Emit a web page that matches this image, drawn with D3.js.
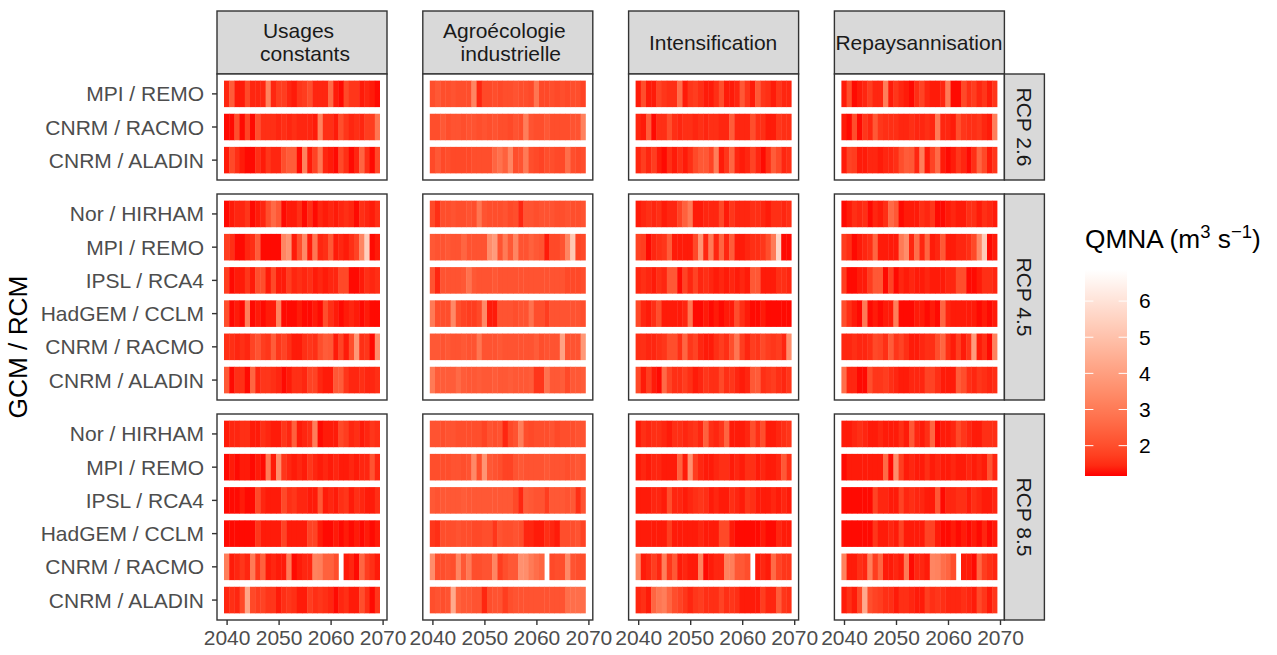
<!DOCTYPE html>
<html><head><meta charset="utf-8">
<script src="https://cdnjs.cloudflare.com/ajax/libs/d3/7.8.5/d3.min.js"></script>
<style>html,body{margin:0;padding:0;background:#fff}svg{display:block}text{font-family:"Liberation Sans",Arial,sans-serif}</style>
</head><body><svg id="c" width="1277" height="655"></svg>
<script>
const years = d3.range(2040, 2070);
const scenarios = ["Usages\nconstants", "Agroécologie\nindustrielle", "Intensification", "Repaysannisation"];
const rcps = ["RCP 2.6", "RCP 4.5", "RCP 8.5"];
const models26 = ["MPI / REMO", "CNRM / RACMO", "CNRM / ALADIN"];
const models = ["Nor / HIRHAM", "MPI / REMO", "IPSL / RCA4", "HadGEM / CCLM", "CNRM / RACMO", "CNRM / ALADIN"];
const xTicks = [2040, 2050, 2060, 2070];
const legendTicks = [2, 3, 4, 5, 6];
const fillMin = 1.16, fillMax = 6.86;

const usages26 = [
[1.4,2.3,1.3,1.3,1.9,1.4,1.4,1.4,3.2,1.4,1.7,1.7,1.4,1.3,1.6,1.7,2.0,1.4,1.4,1.4,2.6,1.3,1.2,1.9,1.6,1.6,1.3,1.4,1.3,1.2],
[1.2,1.2,2.0,1.2,1.8,1.2,2.0,1.5,1.5,1.5,1.4,1.5,1.4,1.5,1.4,1.4,1.4,1.3,3.2,1.5,1.5,1.3,2.0,1.6,1.4,1.5,1.4,1.7,1.7,2.9],
[1.3,1.9,1.5,1.3,1.2,1.2,1.5,1.3,1.6,1.4,1.4,2.0,2.3,2.3,1.2,3.2,1.3,1.8,2.9,1.4,1.3,1.2,1.9,1.5,1.2,1.4,2.5,1.5,1.2,1.9]];
const agro26 = [
[2.0,2.2,2.0,2.0,2.1,2.0,2.0,2.0,3.3,1.4,1.9,1.9,2.0,1.9,2.0,2.0,2.1,2.0,2.0,1.9,2.9,1.9,1.9,2.0,1.9,2.0,1.9,2.0,2.0,1.8],
[2.0,2.0,2.2,2.0,2.1,2.1,2.0,2.1,2.1,2.0,2.1,2.0,2.1,2.0,2.0,1.9,2.1,2.0,3.1,2.1,2.0,2.0,2.2,2.0,2.0,2.0,2.0,2.1,2.1,3.2],
[1.9,2.2,1.9,2.0,1.9,1.9,1.9,1.9,2.0,2.0,2.0,2.0,2.5,2.8,2.4,3.3,2.0,2.1,3.0,2.0,1.9,1.8,2.0,2.0,1.9,1.9,2.7,2.0,1.9,2.0]];
const intens26 = [
[1.3,2.0,1.3,1.3,1.8,1.6,1.5,1.5,2.7,1.3,1.6,1.7,1.5,1.3,1.3,1.5,2.0,1.3,1.3,1.4,2.2,1.6,1.3,2.2,1.6,1.5,1.3,1.6,1.4,1.4],
[1.4,1.3,2.3,1.2,1.5,1.5,2.0,1.5,1.4,1.5,1.5,1.4,1.5,1.4,1.5,1.5,1.4,1.4,2.3,1.4,1.4,1.4,2.0,1.5,1.5,1.3,1.3,1.6,1.5,1.5],
[1.4,1.7,1.4,1.7,1.3,1.2,1.5,1.3,1.5,1.3,1.5,1.9,2.2,2.2,1.8,3.1,1.3,1.6,2.5,1.4,1.3,1.4,1.8,1.4,1.2,1.5,2.3,1.9,1.4,1.5]];
const repays26 = [
[1.3,2.0,1.2,1.3,1.4,1.7,1.4,1.4,3.1,1.3,1.6,1.4,1.3,1.2,1.5,1.8,1.4,1.3,1.3,1.4,3.0,1.2,1.2,1.9,1.5,1.7,1.4,1.6,1.3,1.6],
[1.3,1.2,2.0,1.2,1.6,1.4,2.2,1.6,1.5,1.5,1.5,1.4,1.4,1.5,1.4,1.4,1.5,1.4,3.0,1.4,1.4,1.3,2.0,1.6,1.5,1.5,1.6,1.4,1.3,3.1],
[1.3,1.8,1.7,1.3,1.3,1.4,1.4,1.3,1.4,1.4,1.5,2.0,2.3,2.2,1.4,3.1,1.3,1.8,2.6,1.3,1.2,1.3,1.6,1.4,1.2,1.5,2.5,1.9,1.3,1.6]];

const usages45 = [
[1.2,1.3,1.4,1.4,1.6,1.2,1.3,1.4,2.0,2.6,2.2,1.2,1.3,1.3,1.5,1.2,1.5,1.2,1.4,1.3,1.4,1.3,1.4,1.5,1.4,1.2,1.5,1.4,1.3,1.5],
[1.7,1.5,1.2,1.2,1.4,1.5,2.3,1.2,1.2,1.2,1.2,3.3,3.7,1.3,2.0,3.4,1.3,2.9,1.4,1.5,2.2,1.3,1.4,1.3,1.5,1.8,3.3,5.4,1.2,1.3],
[1.7,1.2,1.3,1.3,1.6,1.3,2.0,2.0,1.3,1.9,1.3,1.3,1.7,1.4,1.5,1.4,1.5,1.3,1.4,1.3,1.4,1.4,1.9,1.9,1.2,1.2,1.3,1.5,1.4,1.5],
[2.0,1.2,1.3,1.2,3.1,1.2,1.3,1.2,1.3,1.3,3.2,1.2,1.2,1.2,1.3,1.2,1.2,1.3,1.2,2.0,1.5,1.3,1.2,1.3,1.4,1.3,1.2,1.3,1.2,1.2],
[1.5,1.5,1.4,1.5,1.4,1.8,2.1,1.7,1.6,2.3,1.6,1.8,1.5,1.3,1.3,1.5,1.6,1.5,2.0,2.3,2.2,1.3,1.8,1.3,2.0,3.8,1.5,1.6,1.2,3.5],
[2.2,1.2,1.5,1.5,1.2,2.5,1.4,1.6,1.6,1.5,1.4,1.2,1.3,1.5,1.5,1.4,1.8,1.8,1.4,1.3,1.3,2.2,2.3,1.6,1.4,1.4,1.5,1.4,1.4,1.5]];
const agro45 = [
[1.9,1.5,2.0,2.0,2.1,2.0,2.0,2.1,2.0,2.9,2.1,2.0,2.0,2.0,2.1,1.9,2.0,1.4,2.1,2.1,2.0,2.1,2.1,2.1,2.0,2.0,2.1,2.0,2.0,2.1],
[2.2,2.1,2.1,2.2,2.1,2.1,2.5,2.1,2.1,2.1,2.1,3.5,3.9,2.1,3.0,2.2,3.3,2.1,2.1,2.4,2.2,2.1,1.3,1.9,1.9,2.1,3.3,5.2,1.8,1.9],
[2.1,1.4,2.1,2.1,2.1,2.1,2.2,2.8,2.2,2.1,2.1,2.1,2.2,2.1,2.1,2.1,2.1,2.1,2.1,2.1,2.1,2.1,2.1,2.1,2.1,2.1,1.9,1.9,1.9,2.0],
[3.0,2.0,2.0,2.0,3.4,2.0,1.8,1.7,1.7,1.9,3.4,1.3,1.3,2.1,2.1,2.1,2.0,2.1,2.1,2.8,2.0,2.0,1.7,2.1,2.1,2.1,2.1,2.1,2.1,2.0],
[2.2,2.2,2.1,2.2,2.1,2.1,2.2,2.1,2.1,2.9,2.1,2.1,2.1,2.2,2.1,2.1,2.1,2.1,2.1,2.1,2.3,2.0,2.1,2.1,2.1,4.1,2.1,2.1,2.1,3.8],
[3.0,2.3,2.3,2.3,2.3,2.6,2.3,2.2,2.2,2.3,2.2,2.2,2.3,2.2,2.2,2.3,2.2,2.2,2.2,2.3,1.6,1.6,2.8,2.2,2.2,2.3,1.9,2.2,2.2,2.3]];
const intens45 = [
[1.3,1.4,1.5,1.4,1.5,1.3,1.4,1.4,1.8,2.4,3.0,1.3,1.3,1.4,1.4,1.4,1.9,1.3,1.6,1.4,1.4,1.4,1.5,1.5,1.4,1.3,1.5,1.5,1.4,1.5],
[1.8,1.7,1.2,1.4,1.5,1.6,2.3,1.3,1.3,1.3,1.3,1.9,3.7,1.4,3.0,1.4,2.5,1.4,2.3,1.3,1.3,1.4,1.5,1.5,1.6,2.0,3.0,5.6,1.2,1.2],
[1.4,1.5,1.4,1.3,1.5,1.4,2.2,2.2,1.2,1.8,1.4,1.8,1.4,1.5,1.4,1.3,1.4,1.3,1.4,1.3,1.4,1.3,2.2,2.2,1.3,1.3,1.3,1.5,1.5,1.4],
[1.9,1.4,1.3,1.5,2.0,1.3,1.3,1.3,1.3,1.4,2.9,1.2,1.2,1.3,1.2,1.3,1.2,1.3,1.3,2.0,1.5,1.3,1.2,1.2,1.3,1.2,1.2,1.2,1.2,1.2],
[1.5,1.5,1.4,1.4,1.5,1.6,2.0,2.0,1.5,2.5,1.6,1.8,1.4,1.3,1.3,1.5,1.7,1.5,2.0,2.9,1.7,1.4,1.7,1.6,1.9,1.7,1.6,1.7,1.4,3.5],
[1.9,1.3,1.7,1.3,1.2,2.6,1.8,1.5,1.5,1.7,1.5,1.3,1.4,1.6,1.5,1.5,1.9,1.5,1.6,1.4,1.3,1.4,2.2,2.3,1.5,1.6,1.7,1.5,1.4,1.6]];
const repays45 = [
[1.2,1.3,1.5,1.4,1.5,1.2,1.4,1.3,1.5,2.6,2.2,1.2,1.3,1.3,1.3,1.5,1.4,1.6,1.2,1.2,1.3,1.4,1.3,1.3,1.5,1.5,1.3,1.5,1.4,1.3],
[1.7,1.5,1.2,1.3,1.4,1.5,2.5,1.3,1.3,1.3,1.3,3.0,3.5,1.4,2.7,1.4,2.5,1.3,1.4,2.2,1.3,1.3,1.4,1.4,1.5,1.9,3.4,5.3,1.2,1.3],
[1.7,1.2,1.2,1.3,1.3,1.7,2.2,2.2,1.2,1.8,1.2,1.4,1.3,1.4,1.3,1.3,1.4,1.3,1.3,1.3,1.4,1.4,2.0,2.0,1.2,1.2,1.3,1.5,1.5,1.4],
[2.0,1.5,1.3,1.2,3.0,1.2,1.3,1.2,1.3,1.3,3.1,1.2,1.2,1.2,1.3,1.3,1.2,1.3,1.2,2.5,1.4,1.3,1.3,1.3,1.3,1.3,1.2,1.3,1.2,1.3],
[1.4,1.4,1.5,1.4,1.4,1.5,1.9,1.8,1.5,2.3,1.6,1.8,1.5,1.3,1.3,1.4,1.5,1.5,2.0,2.5,1.5,1.3,1.7,1.3,1.6,3.9,1.3,1.5,1.2,3.2],
[2.7,1.4,1.4,1.2,1.2,2.0,1.6,1.6,1.7,1.5,1.4,1.3,1.3,1.4,1.4,1.4,1.8,1.8,1.5,1.3,1.3,1.3,2.3,2.0,1.5,1.4,1.6,1.5,1.4,1.5]];

const usages85 = [
[1.3,1.4,1.4,1.5,1.5,1.3,1.3,1.5,1.4,1.3,1.3,1.6,1.4,2.4,1.3,1.4,1.5,3.1,1.2,1.3,1.3,1.3,1.9,1.7,1.4,1.5,1.3,1.4,1.6,1.5],
[1.2,1.3,1.2,1.3,1.3,1.2,1.3,1.2,3.0,1.3,3.5,1.6,1.4,1.3,1.4,1.3,1.6,1.4,1.3,1.4,1.3,1.4,1.3,1.3,1.4,1.3,1.4,1.4,2.1,1.4],
[1.2,1.2,1.2,1.3,1.2,1.2,1.9,1.4,1.3,1.3,1.3,1.9,1.5,1.6,1.4,1.4,1.3,1.3,2.2,1.3,1.4,1.3,1.5,1.6,1.3,1.5,1.4,1.3,1.3,1.5],
[1.2,1.2,1.2,1.2,1.2,1.2,1.6,1.3,1.3,1.3,1.3,1.8,1.3,1.3,1.3,1.3,1.8,1.8,1.3,1.2,1.2,1.3,1.2,1.3,1.2,1.3,1.2,1.3,1.2,1.3],
[3.1,1.3,1.4,1.6,1.4,3.0,1.6,2.4,1.3,1.4,1.3,1.3,3.0,1.2,1.3,1.4,1.4,3.2,3.1,2.4,2.4,2.0,null,1.3,1.4,1.2,2.5,1.7,1.5,1.3],
[1.4,1.5,1.4,1.9,4.2,1.9,1.7,1.8,1.6,1.6,1.3,1.5,1.6,1.5,1.3,1.3,1.7,1.5,1.6,1.5,1.4,1.2,1.4,1.5,1.3,1.3,2.0,1.5,1.2,1.6]];
const agro85 = [
[2.1,2.1,2.0,2.1,2.1,2.0,2.0,2.0,2.0,2.0,1.8,2.1,2.0,2.1,1.4,1.9,2.1,3.1,2.0,1.9,2.0,2.0,2.0,2.1,1.9,2.0,2.0,2.0,2.1,2.1],
[2.0,2.0,2.0,2.0,2.1,2.1,2.0,2.1,3.4,2.0,3.7,2.2,2.1,2.0,1.8,1.8,2.1,2.2,2.1,2.1,2.1,2.1,2.2,2.1,2.1,2.1,2.0,2.1,2.2,2.1],
[2.2,2.1,2.2,2.2,2.2,2.2,2.3,2.2,2.2,2.2,2.2,2.2,2.2,2.2,2.2,2.2,1.9,1.4,2.3,2.2,2.1,2.1,1.7,2.2,2.2,2.2,2.1,2.2,1.5,2.1],
[1.6,1.5,2.0,2.0,2.0,2.1,2.0,2.0,1.9,1.9,2.0,2.0,1.6,2.1,2.0,2.0,2.1,2.0,1.4,1.4,1.3,1.3,1.5,1.4,1.3,2.0,2.0,2.0,2.1,1.8],
[3.5,2.0,2.0,2.1,2.0,3.3,2.2,3.0,2.0,2.0,2.1,2.1,3.3,1.7,2.0,2.2,2.2,3.6,3.5,3.0,2.7,2.5,null,1.9,2.0,2.0,3.4,2.1,2.0,2.0],
[2.0,2.1,2.0,2.1,4.3,2.4,2.2,2.2,2.1,2.1,1.4,2.0,2.1,2.1,1.7,2.0,2.1,2.1,2.1,2.1,2.1,2.1,2.1,2.1,2.1,2.1,2.7,2.7,2.7,2.7]];
const intens85 = [
[1.3,1.5,1.4,1.5,1.5,1.4,1.3,1.5,1.5,1.4,1.5,1.6,1.4,2.4,1.5,1.4,1.6,2.5,1.3,1.3,1.3,1.4,2.0,1.5,2.0,1.3,1.3,1.4,1.5,1.6],
[1.3,1.4,1.3,1.4,1.4,1.3,1.3,1.3,2.4,1.3,3.6,1.7,1.4,1.3,1.3,1.4,1.5,1.5,1.3,1.4,1.3,1.5,1.5,1.3,1.4,1.3,1.3,1.4,2.2,1.5],
[1.3,1.3,1.3,1.4,1.4,1.3,2.0,1.4,1.4,1.3,1.4,1.5,1.6,1.5,1.3,1.4,1.3,1.3,1.5,1.4,1.3,1.6,1.5,1.3,1.3,1.3,1.4,1.3,1.4,1.3],
[1.3,1.3,1.3,1.3,1.3,1.3,1.7,1.3,1.3,1.3,1.3,1.3,1.4,1.3,1.3,1.3,1.9,1.9,1.3,1.2,1.2,1.2,1.2,1.2,1.3,1.2,1.2,1.4,1.3,1.3],
[3.3,1.3,1.4,1.7,1.4,3.1,1.6,2.2,1.3,1.4,1.3,1.3,3.2,1.2,1.3,1.4,1.4,3.2,3.1,2.2,2.2,2.0,null,1.3,1.4,1.3,2.6,1.8,1.6,1.6],
[1.4,1.5,1.3,2.5,2.9,3.1,2.5,2.0,1.8,1.6,1.4,1.6,1.7,1.5,1.5,1.5,1.8,1.5,1.6,1.5,1.3,1.3,1.3,1.3,1.7,1.4,1.4,2.3,1.6,1.5]];
const repays85 = [
[1.3,1.3,1.4,1.5,1.4,1.3,1.3,1.4,1.3,1.3,1.3,1.5,1.3,2.2,1.4,1.3,1.5,2.5,1.2,1.3,1.3,1.4,1.9,1.6,1.4,1.3,1.3,1.5,1.5,1.5],
[1.2,1.3,1.3,1.3,1.3,1.3,1.3,1.3,2.6,1.2,3.5,1.7,1.3,1.4,1.3,1.3,1.5,1.3,1.4,1.3,1.3,1.4,1.3,1.3,1.4,1.3,1.4,1.3,2.1,1.4],
[1.2,1.2,1.2,1.2,1.2,1.2,1.8,1.4,1.4,1.3,1.3,1.8,1.4,1.5,1.4,1.4,1.3,1.3,2.2,1.2,1.4,1.4,1.5,1.5,1.3,1.5,1.4,1.3,1.3,1.4],
[1.2,1.2,1.2,1.2,1.2,1.2,1.6,1.3,1.3,1.4,1.3,1.8,1.3,1.3,1.3,1.3,1.8,1.8,1.3,1.2,1.2,1.3,1.2,1.3,1.2,1.3,1.2,1.4,1.2,1.3],
[3.2,1.3,1.3,1.5,1.4,3.1,1.7,2.5,1.3,1.3,1.4,1.3,3.0,1.2,1.4,1.4,1.3,3.3,3.2,2.7,2.5,2.0,null,1.3,1.3,1.2,2.5,1.7,1.5,1.4],
[1.3,1.5,1.3,1.9,4.3,2.0,1.8,1.7,1.5,1.5,1.3,1.5,1.5,1.4,1.3,1.3,1.7,1.5,1.6,1.5,1.4,1.4,1.4,1.5,1.4,1.3,1.9,1.6,1.3,1.6]];

const panelData = [
  [usages26, agro26, intens26, repays26],
  [usages45, agro45, intens45, repays45],
  [usages85, agro85, intens85, repays85]
];

const fill = d3.scaleLinear().domain([fillMin, fillMax]).range(["#ff0000", "#ffffff"]).interpolate(d3.interpolateLab).clamp(true);

const svg = d3.select("#c");
const panelW = 170, gapX = 35.8, left = 217;
const rowTops = [74, 194, 414], rowBots = [180, 400, 620];
const rowModels = [models26, models, models];
const stripTop = 11, stripBot = 74, rStripW = 40;
const lineCol = "#333333", stripFill = "#D9D9D9";
const textSize = 21;

const panelX = i => left + i * (panelW + gapX);

scenarios.forEach((s, i) => {
  const g = svg.append("g").attr("transform", `translate(${panelX(i)},${stripTop})`);
  g.append("rect").attr("width", panelW).attr("height", stripBot - stripTop).attr("fill", stripFill).attr("stroke", lineCol).attr("stroke-width", 1.4);
  const lines = s.split("\n");
  const offs = i < 2 ? [81.5, 88] : [84.5];
  lines.forEach((l, k) => {
    g.append("text").text(l)
      .attr("x", offs[k])
      .attr("y", lines.length === 2 ? 27.3 + k * 22.8 : 39)
      .attr("text-anchor", "middle").attr("font-size", textSize).attr("fill", "#1A1A1A");
  });
});

rcps.forEach((rcp, r) => {
  const top = rowTops[r], bot = rowBots[r], mods = rowModels[r];
  const n = mods.length;
  const unit = (bot - top) / (n + 0.2);
  const y = d3.scaleBand().domain(mods.slice())
    .range([top + 0.1 * unit, bot - 0.1 * unit]).paddingInner(0.2).paddingOuter(0.1);

  scenarios.forEach((s, c) => {
    const x0 = panelX(c);
    const x = d3.scaleLinear().domain([2040, 2070]).range([x0 + 9.6, x0 + 165.6]);
    const g = svg.append("g");
    g.append("rect").attr("x", x0).attr("y", top).attr("width", panelW).attr("height", bot - top).attr("fill", "#fff");
    const rows = panelData[r][c];
    mods.forEach((m, k) => {
      const cells = years.map((yr, j) => ({ yr, v: rows[k][j] })).filter(d => d.v !== null);
      g.selectAll(null).data(cells).enter().append("rect")
        .attr("x", d => x(d.yr) - 2.6)
        .attr("width", d => x(2041) - x(2040) + (d.yr === 2069 ? 0 : 0.4))
        .attr("y", y(m))
        .attr("height", y.bandwidth())
        .attr("fill", d => fill(d.v));
    });
    g.append("rect").attr("x", x0).attr("y", top).attr("width", panelW).attr("height", bot - top)
      .attr("fill", "none").attr("stroke", lineCol).attr("stroke-width", 1.4);

    if (c === 0) {
      const ax = svg.append("g").attr("transform", `translate(${x0},0)`)
        .call(d3.axisLeft(y).tickSize(5).tickPadding(8));
      styleAxis(ax);
      ax.selectAll(".tick text").attr("dy", "0.36em");
    }
    if (r === 2) {
      const ax = svg.append("g").attr("transform", `translate(0,${bot})`)
        .call(d3.axisBottom(x).tickValues(xTicks).tickFormat(d3.format("d")).tickSize(5).tickPadding(5));
      styleAxis(ax);
    }
  });

  const sx = panelX(3) + panelW;
  svg.append("rect").attr("x", sx).attr("y", top).attr("width", rStripW).attr("height", bot - top)
    .attr("fill", stripFill).attr("stroke", lineCol).attr("stroke-width", 1.4);
  svg.append("text").text(rcp)
    .attr("transform", `translate(${sx + rStripW / 2},${(top + bot) / 2}) rotate(90)`)
    .attr("text-anchor", "middle").attr("dy", "0.35em").attr("font-size", textSize).attr("fill", "#1A1A1A");
});

function styleAxis(ax) {
  ax.select(".domain").remove();
  ax.selectAll(".tick line").attr("stroke", lineCol).attr("stroke-width", 1.4);
  ax.selectAll(".tick text").attr("font-size", textSize).attr("fill", "#4D4D4D").attr("font-family", '"Liberation Sans",Arial,sans-serif');
}

svg.append("text").text("GCM / RCM")
  .attr("transform", "translate(27,347) rotate(-90)")
  .attr("text-anchor", "middle").attr("font-size", 26.25).attr("fill", "#000");

const legX = 1085, legW = 42, legTop = 270, legBot = 476;
const ly = d3.scaleLinear().domain([fillMin, fillMax]).range([legBot, legTop]);
const lg = svg.append("g");
const grad = svg.append("defs").append("linearGradient").attr("id", "lg").attr("x1", 0).attr("x2", 0).attr("y1", 1).attr("y2", 0);
d3.range(0, 1.0001, 0.05).forEach(t => {
  const v = fillMin + t * (fillMax - fillMin);
  grad.append("stop").attr("offset", t).attr("stop-color", fill(v));
});
lg.append("rect").attr("x", legX).attr("y", legTop).attr("width", legW).attr("height", legBot - legTop).attr("fill", "url(#lg)");
legendTicks.forEach(t => {
  lg.append("line").attr("x1", legX).attr("x2", legX + 8.4).attr("y1", ly(t)).attr("y2", ly(t)).attr("stroke", "#fff").attr("stroke-width", 1);
  lg.append("line").attr("x1", legX + legW - 8.4).attr("x2", legX + legW).attr("y1", ly(t)).attr("y2", ly(t)).attr("stroke", "#fff").attr("stroke-width", 1);
  lg.append("text").text(t).attr("x", legX + legW + 12).attr("y", ly(t)).attr("dy", "0.35em").attr("font-size", textSize).attr("fill", "#000");
});
const title = svg.append("text").attr("x", legX).attr("y", 248).attr("font-size", 26.25).attr("fill", "#000");
title.append("tspan").text("QMNA (m");
title.append("tspan").text("3").attr("font-size", 18.5).attr("dy", -10);
title.append("tspan").text(" s").attr("dy", 10);
title.append("tspan").text("−1").attr("font-size", 18.5).attr("dy", -10);
title.append("tspan").text(")").attr("dy", 10);
</script></body></html>
